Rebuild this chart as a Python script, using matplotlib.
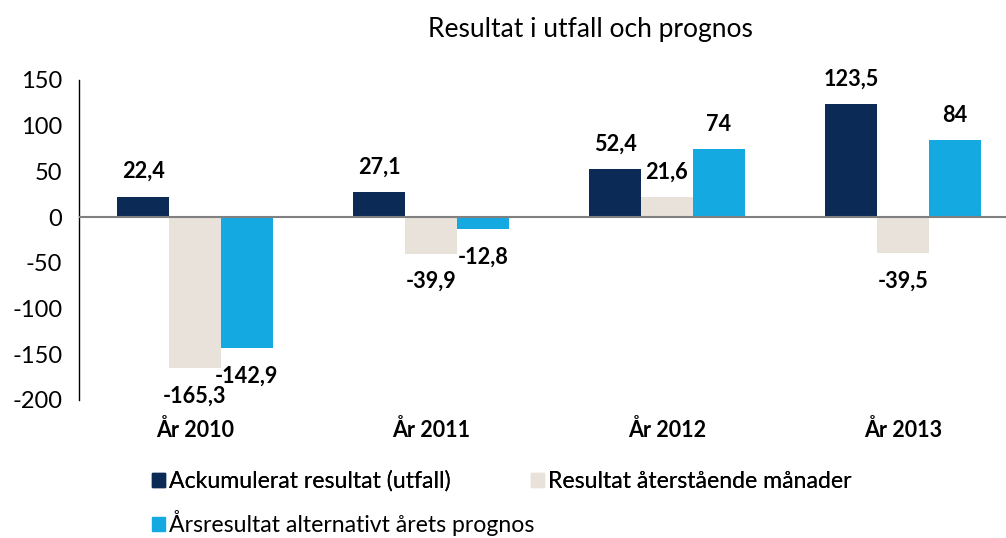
import numpy as np
import matplotlib
matplotlib.use("Agg")
import matplotlib.pyplot as plt
from matplotlib.patches import Patch

plt.rcParams['font.family'] = ['Lato', 'DejaVu Sans']
plt.rcParams['axes.unicode_minus'] = False

years = ['År 2010', 'År 2011', 'År 2012', 'År 2013']
ackumulerat = [22.4, 27.1, 52.4, 123.5]
aterstaende = [-165.3, -39.9, 21.6, -39.5]
arsresultat = [-142.9, -12.8, 74, 84]
series_names = ['Ackumulerat resultat (utfall)', 'Resultat återstående månader',
                'Årsresultat alternativt årets prognos']
colors = ['#0B2A55', '#E8E2DA', '#14A9E1']

def fmt(v):
    if float(v).is_integer():
        return str(int(v))
    return ('%.1f' % v).replace('.', ',')

fig = plt.figure(figsize=(10.06, 5.38), dpi=100)
ax = fig.add_axes([79/1006, (538-400)/538, (1006-79)/1006, 320/538])

x = np.arange(len(years))
w = 0.22
for i, (vals, col) in enumerate(zip([ackumulerat, aterstaende, arsresultat], colors)):
    pos = x + (i - 1) * w
    ax.bar(pos, vals, w, color=col, zorder=2)
    for p, v in zip(pos, vals):
        off = 25 if v >= 0 else -28
        ax.annotate(fmt(v), (p, v), xytext=(0, off), textcoords='offset pixels',
                    ha='center', va='center', fontsize=15.6, fontweight='bold')

ax.set_xlim(-0.5 + 2/236, -0.5 + 929/236)
ax.set_ylim(-200, 150)
ax.set_yticks(range(-200, 151, 50))
ax.tick_params(axis='y', length=0, labelsize=17, pad=12)
ax.set_xticks([])
ax.axhline(0, color='#808080', lw=1.5, zorder=3)
for s in ['top', 'right', 'bottom']:
    ax.spines[s].set_visible(False)
ax.spines['left'].set_color('black')
ax.spines['left'].set_linewidth(1)

# category labels, 30 px under the axis bottom
for xi, lab in zip(x, years):
    ax.annotate(lab, (xi, -200), xytext=(0, -30), textcoords='offset pixels',
                ha='center', va='center', fontsize=15.5, fontweight='bold')

fig.text(590/1006, 1 - 30/538, 'Resultat i utfall och prognos', ha='center', va='center', fontsize=19)

handles = [Patch(color=c) for c in colors]
leg1 = fig.legend(handles[:2], series_names[:2], loc='center left', bbox_to_anchor=(152/1006, 1 - 481/538),
                  ncol=2, frameon=False, fontsize=16.6, handlelength=0.57, handleheight=0.57,
                  handletextpad=0.15, columnspacing=3.5, borderaxespad=0, borderpad=0)
leg2 = fig.legend(handles[2:], series_names[2:], loc='center left', bbox_to_anchor=(152/1006, 1 - 523/538),
                  frameon=False, fontsize=16.6, handlelength=0.57, handleheight=0.57,
                  handletextpad=0.15, borderaxespad=0, borderpad=0)
fig.add_artist(leg1)

fig.savefig('out.png', dpi=100)
